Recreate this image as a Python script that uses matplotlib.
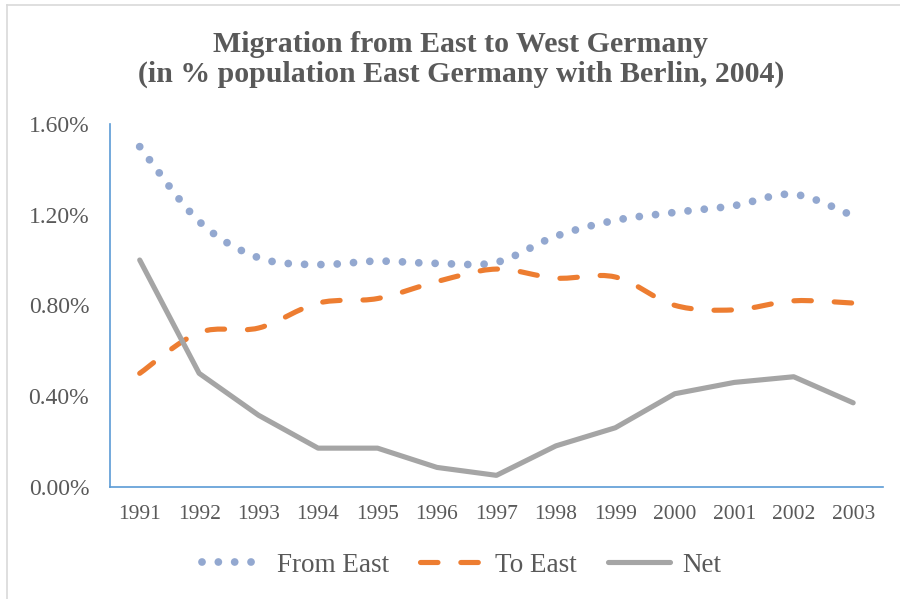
import matplotlib
matplotlib.use("Agg")
import matplotlib.pyplot as plt
from matplotlib.path import Path
from matplotlib.patches import PathPatch
from matplotlib.lines import Line2D
from matplotlib.ticker import FuncFormatter
import numpy as np

years = [1991, 1992, 1993, 1994, 1995, 1996, 1997, 1998, 1999, 2000, 2001, 2002, 2003]
from_east = [1.50, 1.17, 1.01, 0.98, 0.995, 0.985, 0.99, 1.105, 1.175, 1.21, 1.24, 1.29, 1.195]
to_east = [0.50, 0.68, 0.70, 0.81, 0.83, 0.905, 0.96, 0.92, 0.925, 0.80, 0.78, 0.82, 0.81]
net = [1.00, 0.50, 0.315, 0.17, 0.17, 0.085, 0.05, 0.18, 0.26, 0.41, 0.46, 0.485, 0.37]
labels = ["From East", "To East", "Net"]
title_1 = "Migration from East to West Germany"
title_2 = "(in % population East Germany with Berlin, 2004)"

c_from = "#93A8D0"
c_to = "#ED7D31"
c_net = "#A5A5A5"
c_axis = "#5B9BD5"
c_text = "#595959"

plt.rcParams['font.family'] = ['Liberation Serif', 'DejaVu Serif']


def smooth_path(x, y):
    # excel style smoothed line: cubic bezier through every point
    pts = np.column_stack([x, y]).astype(float)
    n = len(pts)
    verts = [pts[0]]
    codes = [Path.MOVETO]
    for i in range(n - 1):
        p0 = pts[i - 1] if i > 0 else pts[i]
        p1 = pts[i]
        p2 = pts[i + 1]
        p3 = pts[i + 2] if i + 2 < n else pts[i + 1]
        verts += [p1 + (p2 - p0) / 6.0, p2 - (p3 - p1) / 6.0, p2]
        codes += [Path.CURVE4] * 3
    return Path(verts, codes)


fig = plt.figure(figsize=(9, 5.99), dpi=100)
ax = fig.add_axes([0.1222, 0.1875, 0.8588, 0.6055])

yr = np.array(years)
fe = np.array(from_east) / 100
te = np.array(to_east) / 100
nt = np.array(net) / 100

dots = (0, (0.001, 2.1))
dashes = (0, (3.4, 4.45))

ax.add_patch(PathPatch(smooth_path(yr, fe), fill=False, edgecolor=c_from,
                       lw=5.6, ls=dots, capstyle='round'))
ax.add_patch(PathPatch(smooth_path(yr, te), fill=False, edgecolor=c_to,
                       lw=3.7, ls=dashes, capstyle='round'))
ax.plot(yr, nt, color=c_net, lw=3.7, solid_capstyle='round', solid_joinstyle='round')

ax.set_xlim(1990.5, 2003.5)
ax.set_ylim(0, 0.016)
ax.set_xticks(years)
ax.set_xticklabels([str(y) for y in years])
ax.set_yticks([0, 0.004, 0.008, 0.012, 0.016])
ax.yaxis.set_major_formatter(FuncFormatter(lambda v, p: f"{v * 100:.2f}%"))
ax.tick_params(axis='both', length=0, colors=c_text)
ax.tick_params(axis='y', labelsize=17, pad=15)
ax.tick_params(axis='x', labelsize=15.5, pad=13)

for s in ['top', 'right']:
    ax.spines[s].set_visible(False)
for s in ['left', 'bottom']:
    ax.spines[s].set_color(c_axis)
    ax.spines[s].set_linewidth(1.2)

fig.text(0.512, 1 - 52 / 599, title_1, ha='center', va='baseline', fontsize=21.5,
         fontweight='bold', color=c_text)
fig.text(0.512, 1 - 82 / 599, title_2, ha='center', va='baseline', fontsize=21.5,
         fontweight='bold', color=c_text)

handles = [
    Line2D([], [], color=c_from, lw=5.6, ls=dots, dash_capstyle='round'),
    Line2D([], [], color=c_to, lw=3.7, ls=dashes, dash_capstyle='round'),
    Line2D([], [], color=c_net, lw=3.7, solid_capstyle='round'),
]
leg = fig.legend(handles, labels, loc='center', bbox_to_anchor=(0.513, 1 - 565 / 599), ncol=3,
                 frameon=False, fontsize=19.5, handlelength=2.3, columnspacing=1.15,
                 handletextpad=0.45)
for t in leg.get_texts():
    t.set_color(c_text)

# chart border at top and left
fig.add_artist(Line2D([0.008, 0.008], [0, 0.992], transform=fig.transFigure, color="#D9D9D9", lw=1.2))
fig.add_artist(Line2D([0.008, 1.0], [0.992, 0.992], transform=fig.transFigure, color="#D9D9D9", lw=1.2))

fig.savefig("out.png", dpi=100)
